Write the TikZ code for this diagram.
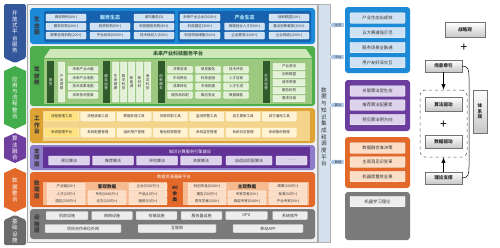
\documentclass[tikz,border=0pt]{standalone}
\usepackage{fontspec}
\setmainfont{Noto Sans CJK SC}
\usetikzlibrary{arrows.meta,shapes.arrows}

\definecolor{framebg}{HTML}{EEF1F4}
\definecolor{stripbg}{HTML}{D5E1EE}
\definecolor{tagblue}{HTML}{A9C6E4}
\definecolor{tabblue}{HTML}{34579C}
\definecolor{tabgreen}{HTML}{43AC4B}
\definecolor{tabpurple}{HTML}{6E3F9E}
\definecolor{taborange}{HTML}{E2692A}
\definecolor{tabgray}{HTML}{6B6B6B}
\definecolor{ecoblue}{HTML}{1C8AD6}
\definecolor{ecodark}{HTML}{1662AE}
\definecolor{ecocell}{HTML}{CFE2F4}
\definecolor{cockgreen}{HTML}{4EAE4C}
\definecolor{cockband}{HTML}{CFE8BA}
\definecolor{cockinner}{HTML}{9CC97F}
\definecolor{cockdark}{HTML}{2F5A2B}
\definecolor{cockcell}{HTML}{E3F1D6}
\definecolor{workgold}{HTML}{DDA234}
\definecolor{workinner}{HTML}{F3D48A}
\definecolor{workcell}{HTML}{FFF3D2}
\definecolor{workhi}{HTML}{FFE27D}
\definecolor{algolight}{HTML}{8E7CC8}
\definecolor{algopurple}{HTML}{6B3E9E}
\definecolor{algoinner}{HTML}{623296}
\definecolor{algocell}{HTML}{DDD3ED}
\definecolor{dataorange}{HTML}{E2692A}
\definecolor{datainner}{HTML}{F6BA90}
\definecolor{datacell}{HTML}{FCDDC6}
\definecolor{basegray}{HTML}{7A7A7A}
\definecolor{basecell}{HTML}{EDEDED}

\begin{document}
\begin{tikzpicture}[x=1pt,y=-1pt,>=Latex,
  tablabel/.style={text=white,align=center,inner sep=0pt,font=\fontsize{5.5}{6.2}\selectfont},
  laylabel/.style={text=black!78,align=center,inner sep=0pt,font=\fontsize{5.6}{6.6}\selectfont\bfseries},
  cell/.style={draw=white,line width=0.3pt,rounded corners=0.8pt,inner sep=0pt,text=black!80,font=\fontsize{3.5}{4}\selectfont},
  ecocell/.style={cell,fill=ecocell,minimum width=40pt,minimum height=7pt},
  ecotitle/.style={inner sep=0pt,text=cyan!30,font=\fontsize{5}{5}\selectfont\bfseries},
  greencell/.style={cell,fill=cockcell,minimum height=6.5pt},
  vcell/.style={cell,fill=cockcell,align=center,minimum width=6.5pt,minimum height=40pt},
  darkcol/.style={fill=cockdark,text=white,align=center,inner sep=0pt,minimum width=7pt,minimum height=42pt,font=\fontsize{3.5}{4}\selectfont},
  workbox/.style={cell,fill=workcell,minimum width=34pt,minimum height=9pt},
  algobox/.style={cell,fill=algocell,minimum height=9pt,font=\fontsize{4}{4.5}\selectfont},
  datbox/.style={cell,fill=datacell,minimum width=38pt,minimum height=6.5pt},
  dattitle/.style={inner sep=0pt,text=black!85,font=\fontsize{4.6}{5}\selectfont\bfseries},
  basebox/.style={cell,fill=basecell,draw=black!30,minimum height=8.5pt,font=\fontsize{4}{4.5}\selectfont},
  head/.style={inner sep=0pt,text=white,font=\fontsize{4.2}{5}\selectfont},
  tag/.style={single arrow,shape border rotate=180,fill=tagblue,draw=white,line width=0.3pt,inner sep=0.6pt,single arrow head extend=1.5pt,minimum height=14pt,text=black!80,font=\fontsize{3.2}{3.5}\selectfont},
  sidebox/.style={draw=white,line width=0.4pt,rounded corners=1pt,minimum width=55pt,minimum height=10.5pt,inner sep=0pt,text=black!80,font=\fontsize{4.3}{5}\selectfont},
  viewbox/.style={draw=black!55,line width=0.4pt,top color=white,bottom color=black!22,inner sep=0pt,text=black!85,font=\fontsize{4.6}{5.4}\selectfont\bfseries},
  plus/.style={inner sep=0pt,font=\fontsize{12}{12}\selectfont}]

\useasboundingbox (0,0) rectangle (500,247);

% left tabs
\fill[tabblue,rounded corners=1.5pt] (4,4) -- (26,4) -- (26,58) -- (15,63) -- (4,58) -- cycle;
\node[tablabel] (tabOpen) at (15,32) {开\\放\\式\\平\\台\\服\\务};
\fill[tabgreen] (4,71) -- (15,66) -- (26,71) -- (26,124) -- (15,129) -- (4,124) -- cycle;
\node[tablabel] (tabFlow) at (15,97.5) {应\\用\\与\\流\\程\\整\\合};
\fill[tabpurple] (4,138) -- (15,133) -- (26,138) -- (26,158) -- (15,163) -- (4,158) -- cycle;
\node[tablabel] (tabAlgo) at (15,148) {算\\法\\融\\合};
\fill[taborange] (4,173) -- (15,168) -- (26,173) -- (26,207) -- (15,212) -- (4,207) -- cycle;
\node[tablabel] (tabData) at (15,190) {数\\据\\整\\合};
\fill[tabgray,rounded corners=1.5pt] (4,220) -- (15,215) -- (26,220) -- (26,245) -- (4,245) -- cycle;
\node[tablabel] (tabBase) at (15,231) {基\\础\\设\\施};

% main frame
\fill[framebg] (27,4) rectangle (317,242);
\draw[black!35,line width=0.6pt] (27,4) rectangle (317,242);

% eco layer
\fill[ecoblue,rounded corners=3pt] (30,8) rectangle (315,44);
\node[laylabel] (lEco) at (37,26) {生\\态\\圈};
\fill[ecodark,rounded corners=2pt] (44,11) rectangle (175,42);
\fill[ecodark,rounded corners=2pt] (178,11) rectangle (311,42);
\node[ecocell] (s11) at (66,17.5) {高校院所(40+)};
\node[ecotitle] (sTitle) at (110,17.5) {服务生态};
\node[ecocell] (s13) at (154,17.5) {城市服务(3)};
\node[ecocell] (s21) at (66,26.5) {服务机构(200+)};
\node[ecocell] (s22) at (110,26.5) {投资机构(50+)};
\node[ecocell] (s23) at (154,26.5) {科技服务机构(80+)};
\node[ecocell] (s31) at (66,35.5) {政策咨询机构(200+)};
\node[ecocell] (s32) at (110,35.5) {平台伙伴(5000+)};
\node[ecocell] (s33) at (154,35.5) {技术经纪人(500+)};
\node[ecocell] (i11) at (200,17.5) {未来产业企业(3000+)};
\node[ecotitle] (iTitle) at (244.5,17.5) {产业生态};
\node[ecocell] (i13) at (289,17.5) {创新联盟(10+)};
\node[ecocell] (i21) at (200,26.5) {科技园区(300+)};
\node[ecocell] (i22) at (244.5,26.5) {高端创业人才(500+)};
\node[ecocell] (i23) at (289,26.5) {重点创新载体(100+)};
\node[ecocell] (i31) at (200,35.5) {科创项目储备(500+)};
\node[ecocell] (i32) at (244.5,35.5) {企业需求(1000+)};
\node[ecocell] (i33) at (289,35.5) {企业供给(1000+)};

% cockpit layer
\fill[cockgreen,rounded corners=3pt] (30,46) rectangle (315,106);
\node[laylabel] (lCock) at (37,76) {驾\\驶\\舱};
\fill[cockband] (44,58) -- (50,49) -- (306,49) -- (312,58) -- cycle;
\node[inner sep=0pt,text=cockdark,font=\fontsize{5}{5}\selectfont\bfseries] (cTitle) at (178,53.5) {未来产业科技服务平台};
\fill[cockinner] (44,59) rectangle (312,104);
\node[darkcol] (d1) at (50.5,82) {首\\页};
\node[vcell] (v0) at (61.5,82) {产\\业\\洞\\察};
\node[greencell,minimum width=30pt] (a1) at (83,69.5) {未来产业大脑};
\node[greencell,minimum width=30pt] (a2) at (83,78) {未来产业地图};
\node[greencell,minimum width=30pt] (a3) at (83,86.5) {技术成果地图};
\node[greencell,minimum width=30pt] (a4) at (83,95) {未来技术图谱};
\node[darkcol] (d2) at (106,82) {服\\务\\运\\营};
\node[vcell] (v1) at (115.5,82) {生\\命\\健\\康};
\node[vcell] (v2) at (123.5,82) {数\\字\\科\\技};
\node[vcell] (v3) at (131.5,82) {新\\能\\源};
\node[vcell] (v4) at (139.5,82) {新\\材\\料};
\node[vcell] (v5) at (147.5,82) {海\\洋\\科\\技};
\node[darkcol] (d3) at (161,82) {创\\新\\服\\务};
\node[greencell,minimum width=25pt] (b11) at (180,69.5) {决策咨询};
\node[greencell,minimum width=25pt] (b12) at (208,69.5) {研发服务};
\node[greencell,minimum width=25pt] (b13) at (236,69.5) {技术评估};
\node[greencell,minimum width=25pt] (b21) at (180,78) {中试熟化};
\node[greencell,minimum width=25pt] (b22) at (208,78) {科技金融};
\node[greencell,minimum width=25pt] (b23) at (236,78) {人才培育};
\node[greencell,minimum width=25pt] (b31) at (180,86.5) {成果转化};
\node[greencell,minimum width=25pt] (b32) at (208,86.5) {市场拓展};
\node[greencell,minimum width=25pt] (b33) at (236,86.5) {人才引进};
\node[greencell,minimum width=25pt] (b41) at (180,95) {服务商匹配};
\node[greencell,minimum width=25pt] (b42) at (208,95) {概念验证};
\node[greencell,minimum width=25pt] (b43) at (236,95) {数据赋能};
\node[darkcol] (d4) at (266,82) {生\\态\\运\\营};
\node[greencell,minimum width=32pt] (e1) at (289,66.5) {产业资讯};
\node[greencell,minimum width=32pt] (e2) at (289,74.5) {创新联盟};
\node[greencell,minimum width=32pt] (e3) at (289,82.5) {城市季报};
\node[greencell,minimum width=32pt] (e4) at (289,90.5) {服务机构};
\node[greencell,minimum width=32pt] (e5) at (289,98.5) {需求对接};

% workbench layer
\fill[workgold,rounded corners=3pt] (30,108) rectangle (315,143);
\node[laylabel] (lWork) at (37,125.5) {工\\作\\台};
\fill[workinner] (43,111) rectangle (310,141);
\node[workbox,fill=workhi] (w11) at (61.5,116.5) {流程管理工具};
\node[workbox] (w12) at (97.8,116.5) {流程调度工具};
\node[workbox] (w13) at (134.1,116.5) {数据处理工具};
\node[workbox] (w14) at (170.4,116.5) {关联匹配工具};
\node[workbox] (w15) at (206.7,116.5) {监测预警工具};
\node[workbox] (w16) at (243,116.5) {自主更新工具};
\node[workbox] (w17) at (279.3,116.5) {其它通用工具};
\node[workbox,fill=workhi] (w21) at (61.5,132.5) {系统管理平台};
\node[workbox] (w22) at (97.8,132.5) {系统配置管理};
\node[workbox] (w23) at (134.1,132.5) {组织用户管理};
\node[workbox] (w24) at (170.4,132.5) {角色权限管理};
\node[workbox] (w25) at (206.7,132.5) {系统监控管理};
\node[workbox] (w26) at (243,132.5) {系统日志管理};
\node[workbox] (w27) at (279.3,132.5) {系统备份管理};

% support layer
\fill[algolight,rounded corners=3pt] (30,145) rectangle (315,170);
\node[laylabel] (lAlgo) at (37,157.5) {支\\撑\\层};
\fill[algoinner] (43,147) rectangle (310,168);
\node[head] (algoHead) at (190,151.5) {知识计算服务引擎建设};
\node[algobox,minimum width=41pt] (g1) at (69,160.5) {预见算法};
\node[algobox,minimum width=41pt] (g2) at (113,160.5) {推荐算法};
\node[algobox,minimum width=41pt] (g3) at (157,160.5) {评估算法};
\node[algobox,minimum width=41pt] (g4) at (201,160.5) {关联算法};
\node[algobox,minimum width=46pt] (g5) at (249,160.5) {自适应匹配算法};
\node[algobox,minimum width=31pt] (g6) at (291.5,160.5) {……};

% data layer
\fill[dataorange,rounded corners=3pt] (30,172) rectangle (315,207);
\node[laylabel] (lData) at (37,189.5) {数\\据\\层};
\node[head] (dataHead) at (174,177) {数据资源基础平台};
\fill[datainner] (43,182) rectangle (167,205);
\fill[datainner] (183,182) rectangle (309,205);
\node[datbox] (o11) at (66,186.5) {产业链(50+)};
\node[dattitle] (oTitle) at (107,186.5) {客观数据};
\node[datbox] (o13) at (148,186.5) {企业(5000万+)};
\node[datbox] (o21) at (66,194) {人才(20万+)};
\node[datbox] (o22) at (107,194) {专利(4000万+)};
\node[datbox] (o23) at (148,194) {产品(10万+)};
\node[datbox] (o31) at (66,201.5) {园区(300万+)};
\node[datbox] (o32) at (107,201.5) {论文(300万+)};
\node[datbox] (o33) at (148,201.5) {融资(50万+)};
\node[align=center,inner sep=0pt,text=black!85,font=\fontsize{4.6}{5.6}\selectfont\bfseries] (forty) at (175,194) {40\\余\\类};
\node[datbox] (p11) at (207,186.5) {科创作品(5000+)};
\node[dattitle] (pTitle) at (247,186.5) {主观数据};
\node[datbox] (p13) at (288,186.5) {政策(300万+)};
\node[datbox] (p21) at (207,194) {报告(300万+)};
\node[datbox] (p22) at (247,194) {专家学者(50+)};
\node[datbox] (p23) at (288,194) {标准(30万+)};
\node[datbox] (p31) at (207,201.5) {青年学者(300+)};
\node[datbox] (p32) at (247,201.5) {高层专家(5000+)};
\node[datbox] (p33) at (288,201.5) {产业专家(50+)};

% facility layer
\fill[basegray,rounded corners=3pt] (30,209) rectangle (315,239);
\node[laylabel] (lBase) at (37,224) {设\\施\\层};
\node[basebox,minimum width=42pt] (f11) at (67,215.5) {机房设施};
\node[basebox,minimum width=41pt] (f12) at (112,215.5) {网络设施};
\node[basebox,minimum width=41pt] (f13) at (156.5,215.5) {存储设施};
\node[basebox,minimum width=41pt] (f14) at (201.5,215.5) {服务器设施};
\node[basebox,minimum width=42pt] (f15) at (246.5,215.5) {GPU};
\node[basebox,minimum width=35pt] (f16) at (290,215.5) {系统软件};
\node[basebox,minimum width=76pt] (f21) at (83,228.5) {项目合作单位外网};
\node[basebox,minimum width=78pt] (f22) at (177,228.5) {互联网};
\node[basebox,minimum width=70pt] (f23) at (268,228.5) {移动APP};

% integration strip
\fill[stripbg] (318,4) rectangle (330,242);
\draw[black!30,line width=0.4pt] (318,4) rectangle (330,242);
\node[align=center,inner sep=0pt,text=black!80,font=\fontsize{5.6}{6.7}\selectfont] (strip) at (324,127) {数\\据\\与\\知\\识\\集\\成\\和\\调\\度\\平\\台};
\node[tag] (tEco) at (338,25) {生态};
\node[tag] (tPlat) at (338,57) {平台};
\node[tag] (tAlgo) at (338,105) {算法};
\node[tag] (tData) at (338,162) {数据};

% right panels
\fill[ecoblue,rounded corners=3pt] (345,7) rectangle (410,73);
\node[sidebox,fill=ecocell] (r1) at (377.5,18) {产业生态出成效};
\node[sidebox,fill=ecocell] (r2) at (377.5,32.5) {五大赛道强示范};
\node[sidebox,fill=ecocell] (r3) at (377.5,47.5) {服务场景全融通};
\node[sidebox,fill=ecocell] (r4) at (377.5,62.5) {用户友好深交互};
\fill[algopurple,rounded corners=3pt] (345,80) rectangle (410,131);
\node[sidebox,fill=algocell] (r5) at (377.5,91) {关联算法促生态};
\node[sidebox,fill=algocell] (r6) at (377.5,105) {推荐算法配要素};
\node[sidebox,fill=algocell] (r7) at (377.5,119.5) {预见算法明方向};
\fill[dataorange,rounded corners=3pt] (345,137) rectangle (410,188);
\node[sidebox,fill=datacell] (r8) at (377.5,148) {数据融合准决策};
\node[sidebox,fill=datacell] (r9) at (377.5,162) {主观洞见识变革};
\node[sidebox,fill=datacell] (r10) at (377.5,176.5) {机器度量绘全景};
\fill[basegray,rounded corners=3pt] (345,192) rectangle (410,240);
\node[sidebox,fill=basecell] (r11) at (377.5,201.5) {机器学习理论};

% views
\node[viewbox,minimum width=40pt,minimum height=15pt] (strategy) at (465,30) {战略观};
\node[plus] (plusTop) at (464,48) {+};
\node[viewbox,minimum width=37pt,minimum height=12pt] (scene) at (443.5,66) {场景牵引};
\node[draw=black!70,dashed,line width=0.5pt,rounded corners=5pt,minimum width=47pt,minimum height=67pt] (drive) at (443.5,123.5) {};
\node[viewbox,minimum width=37pt,minimum height=14pt] (algoDrive) at (443.5,104.5) {算法驱动};
\node[plus] (plusMid) at (443.5,124.5) {+};
\node[viewbox,minimum width=37pt,minimum height=13pt] (dataDrive) at (443.5,142) {数据驱动};
\node[viewbox,minimum width=37pt,minimum height=12pt] (theory) at (443.5,178) {理论支撑};
\node[viewbox,align=center,minimum width=14pt,minimum height=43pt] (system) at (480,111.5) {体\\系\\观};
\coordinate (bendTop) at (469,77);
\coordinate (bendBot) at (469,167);
\draw[->,line width=0.6pt] (scene) -- (drive);
\draw[->,line width=0.6pt] (theory) -- (drive);
\draw[line width=0.5pt] (scene.east) .. controls +(6,0) and +(0,-7) .. (bendTop) -- (bendBot) .. controls +(0,7) and +(6,0) .. (theory.east);
\end{tikzpicture}
\end{document}
